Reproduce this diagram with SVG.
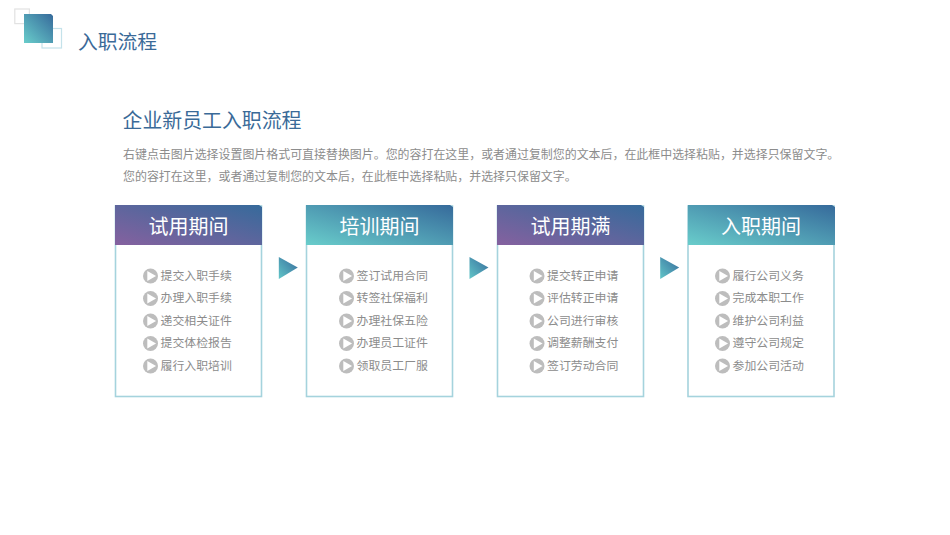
<svg xmlns="http://www.w3.org/2000/svg" xmlns:xlink="http://www.w3.org/1999/xlink" width="950" height="535" viewBox="0 0 950 535">
<defs>
<linearGradient id="gt" x1="0" y1="1" x2="1" y2="0"><stop offset="0" stop-color="#69cdcb"/><stop offset="1" stop-color="#366a9b"/></linearGradient>
<linearGradient id="gp" x1="0" y1="1" x2="1" y2="0"><stop offset="0" stop-color="#85619f"/><stop offset="1" stop-color="#366a9b"/></linearGradient>
<linearGradient id="ga" x1="0" y1="1" x2="1" y2="0"><stop offset="0" stop-color="#62c6c8"/><stop offset="1" stop-color="#366a9b"/></linearGradient>
<g id="bullet"><circle cx="0" cy="0" r="7.5" fill="#bdbdbd"/><path d="M-3.2,-5 L5.6,0 L-3.2,5 Z" fill="#fff"/></g>
<path id="arrow" d="M0,0 L19,10.5 L0,22 Z" fill="url(#ga)"/>
</defs>
<style>
.zh{font-family:"Noto Sans CJK SC","Liberation Sans",sans-serif}
.it{font-size:11.9px;fill:#8c8c8c}
.hd{font-size:20px;fill:#fff;text-anchor:middle}
.box{fill:#fff;stroke:#a5d3dd;stroke-width:1.6}
</style>
<rect width="950" height="535" fill="#fff"/>
<g id="logo">
<rect x="14.8" y="9" width="14.6" height="14.6" fill="none" stroke="#e2e2e2" stroke-width="1.2"/>
<rect x="42" y="28.500" width="19.500" height="19.500" fill="none" stroke="#c4e2ea" stroke-width="1.2"/>
<path d="M24,14 H51 L53,16 V43 H24 Z" fill="url(#gt)"/>
</g>
<text id="title" class="zh" x="78" y="48.500" font-size="19.800" fill="#3a6a98">入职流程</text>
<g id="intro" class="zh">
<text x="122.500" y="127.500" font-size="19.900" fill="#3a6a98">企业新员工入职流程</text>
<text x="123" y="158.500" font-size="11.940" fill="#8c8c8c">右键点击图片选择设置图片格式可直接替换图片。您的容打在这里，或者通过复制您的文本后，在此框中选择粘贴，并选择只保留文字。</text>
<text x="123" y="180.500" font-size="11.940" fill="#8c8c8c">您的容打在这里，或者通过复制您的文本后，在此框中选择粘贴，并选择只保留文字。</text>
</g>
<g id="connectors">
<use xlink:href="#arrow" href="#arrow" x="278.800" y="257"/>
<use xlink:href="#arrow" href="#arrow" x="469.500" y="257"/>
<use xlink:href="#arrow" href="#arrow" x="660.200" y="257"/>
</g>
<g id="card1" class="zh">
<rect class="box" x="115.500" y="206" width="146" height="190.500"/>
<path d="M115,205 H259 L262,207 V245 H115 Z" fill="url(#gp)"/>
<text class="hd" x="188.500" y="233.500">试用期间</text>
<use xlink:href="#bullet" href="#bullet" x="150.500" y="276"/><text class="it" x="160.500" y="279.500">提交入职手续</text>
<use xlink:href="#bullet" href="#bullet" x="150.500" y="298.500"/><text class="it" x="160.500" y="302">办理入职手续</text>
<use xlink:href="#bullet" href="#bullet" x="150.500" y="321"/><text class="it" x="160.500" y="324.500">递交相关证件</text>
<use xlink:href="#bullet" href="#bullet" x="150.500" y="343.500"/><text class="it" x="160.500" y="347">提交体检报告</text>
<use xlink:href="#bullet" href="#bullet" x="150.500" y="366"/><text class="it" x="160.500" y="369.500">履行入职培训</text>
</g>
<g id="card2" class="zh">
<rect class="box" x="306.500" y="206" width="146" height="190.500"/>
<path d="M306,205 H450 L453,207 V245 H306 Z" fill="url(#gt)"/>
<text class="hd" x="379.500" y="233.500">培训期间</text>
<use xlink:href="#bullet" href="#bullet" x="346.500" y="276"/><text class="it" x="356.500" y="279.500">签订试用合同</text>
<use xlink:href="#bullet" href="#bullet" x="346.500" y="298.500"/><text class="it" x="356.500" y="302">转签社保福利</text>
<use xlink:href="#bullet" href="#bullet" x="346.500" y="321"/><text class="it" x="356.500" y="324.500">办理社保五险</text>
<use xlink:href="#bullet" href="#bullet" x="346.500" y="343.500"/><text class="it" x="356.500" y="347">办理员工证件</text>
<use xlink:href="#bullet" href="#bullet" x="346.500" y="366"/><text class="it" x="356.500" y="369.500">领取员工厂服</text>
</g>
<g id="card3" class="zh">
<rect class="box" x="497.500" y="206" width="146" height="190.500"/>
<path d="M497,205 H641 L644,207 V245 H497 Z" fill="url(#gp)"/>
<text class="hd" x="570.500" y="233.500">试用期满</text>
<use xlink:href="#bullet" href="#bullet" x="537" y="276"/><text class="it" x="547" y="279.500">提交转正申请</text>
<use xlink:href="#bullet" href="#bullet" x="537" y="298.500"/><text class="it" x="547" y="302">评估转正申请</text>
<use xlink:href="#bullet" href="#bullet" x="537" y="321"/><text class="it" x="547" y="324.500">公司进行审核</text>
<use xlink:href="#bullet" href="#bullet" x="537" y="343.500"/><text class="it" x="547" y="347">调整薪酬支付</text>
<use xlink:href="#bullet" href="#bullet" x="537" y="366"/><text class="it" x="547" y="369.500">签订劳动合同</text>
</g>
<g id="card4" class="zh">
<rect class="box" x="688" y="206" width="146" height="190.500"/>
<path d="M688,205 H832 L835,207 V245 H688 Z" fill="url(#gt)"/>
<text class="hd" x="761" y="233.500">入职期间</text>
<use xlink:href="#bullet" href="#bullet" x="722.500" y="276"/><text class="it" x="732.500" y="279.500">履行公司义务</text>
<use xlink:href="#bullet" href="#bullet" x="722.500" y="298.500"/><text class="it" x="732.500" y="302">完成本职工作</text>
<use xlink:href="#bullet" href="#bullet" x="722.500" y="321"/><text class="it" x="732.500" y="324.500">维护公司利益</text>
<use xlink:href="#bullet" href="#bullet" x="722.500" y="343.500"/><text class="it" x="732.500" y="347">遵守公司规定</text>
<use xlink:href="#bullet" href="#bullet" x="722.500" y="366"/><text class="it" x="732.500" y="369.500">参加公司活动</text>
</g>
</svg>
